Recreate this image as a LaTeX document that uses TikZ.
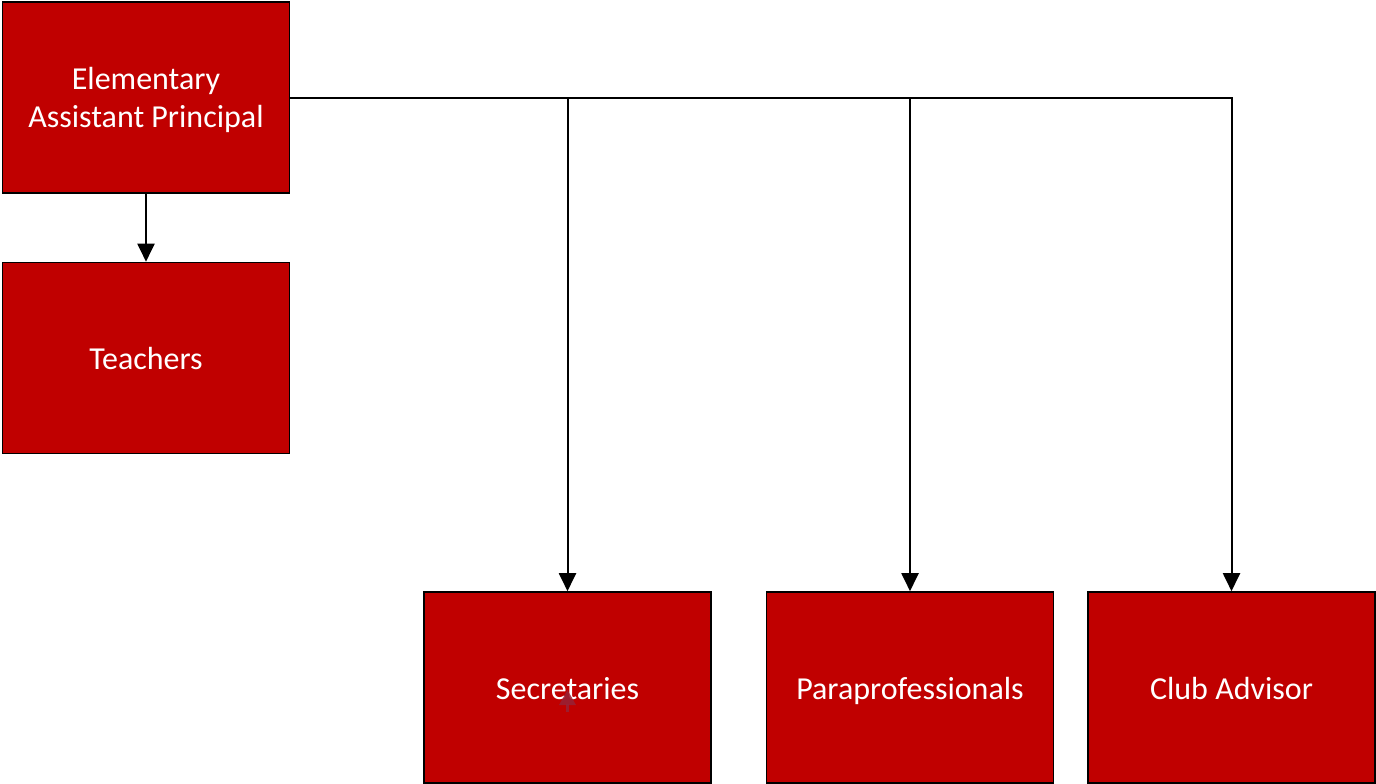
\documentclass[tikz,border=0pt]{standalone}
\usepackage{fontspec}
\setmainfont{Carlito}
\usetikzlibrary{arrows.meta}
\definecolor{boxred}{RGB}{192,0,0}
\definecolor{handle}{RGB}{150,35,55}
% struts that keep every label on the same baseline inside its box
\newcommand\lblstrut{\rule[-9pt]{0pt}{41pt}}
\newcommand\lbldepth{\rule[-9pt]{0pt}{9pt}}
\begin{document}
\begin{tikzpicture}[x=1pt,y=-1pt,
  rolebox/.style={draw=black, line width=1.6pt, fill=boxred, text=white,
    minimum width=287pt, minimum height=191pt, inner sep=0pt,
    align=center, font=\fontsize{32}{38}\selectfont},
  link/.style={draw=black, line width=2pt, -{Triangle[width=17pt,length=18pt]}}]
\useasboundingbox (0,0) rectangle (1376,784);
% boxes
\node[rolebox] (ap) at (146,97.5) {\rule{0pt}{31pt}Elementary\\Assistant Principal\lbldepth};
\node[rolebox] (tch) at (146,358) {\lblstrut Teachers};
\node[rolebox] (sec) at (567.5,687.5) {\lblstrut Secretaries};
\node[rolebox] (para) at (910,687.5) {\lblstrut Paraprofessionals};
\node[rolebox] (club) at (1231.5,687.5) {\lblstrut Club Advisor};
% connectors
\draw[link] (ap.south) -- (tch.north);
\draw[link] (ap.east) -| (sec.north);
\draw[link] (ap.east) -| (para.north);
\draw[link] (ap.east) -| (club.north);
% small move handle inside the secretaries box
\fill[handle, opacity=0.85] (559,705) -- (567.5,690) -- (576,705) -- cycle;
\fill[handle, opacity=0.85] (566,704) rectangle (569,712);
\end{tikzpicture}
\end{document}
